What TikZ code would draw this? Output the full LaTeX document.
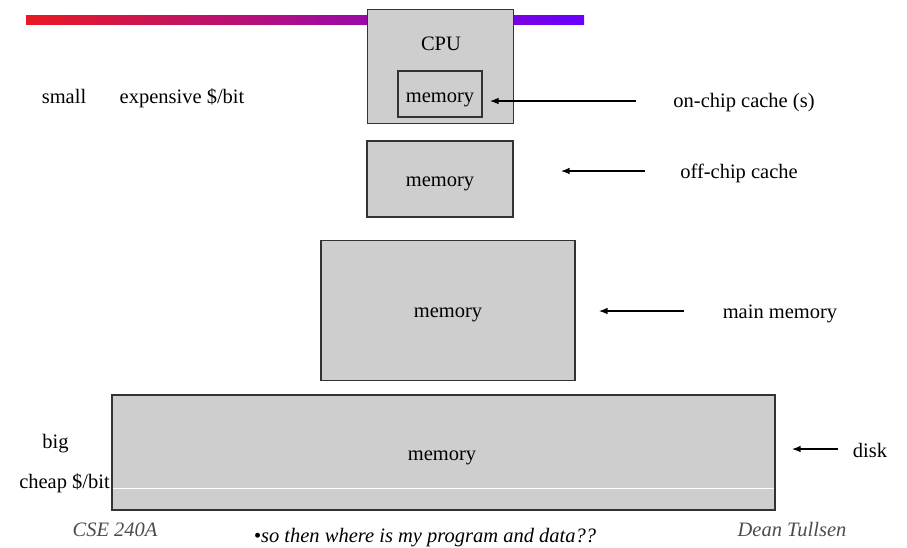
\documentclass[tikz,border=0pt]{standalone}
\usepackage{fontspec}
\setmainfont{Liberation Serif}
\usetikzlibrary{arrows.meta}
\begin{document}
\begin{tikzpicture}[x=1pt,y=-1pt,
  box/.style={draw=black!80, line width=1.3pt, fill=boxgray, inner sep=0pt},
  lbl/.style={font=\fontsize{20.5}{24}\selectfont, inner sep=0pt, anchor=base},
  foot/.style={font=\fontsize{20.5}{24}\selectfont\itshape, inner sep=0pt, text=black!70, anchor=base},
  arr/.style={-{Latex[length=8.5pt,width=6.5pt]}, line width=1.1pt}]
\definecolor{boxgray}{RGB}{206,206,206}
\definecolor{barred}{RGB}{232,26,34}
\definecolor{barmid}{RGB}{212,20,140}
\definecolor{barviol}{RGB}{104,0,255}
\useasboundingbox (0,0) rectangle (907,547);
% gradient bar
\shade[left color=barred, middle color=barmid, right color=barviol] (26,15) rectangle (584,24);
% CPU box
\node[box, minimum width=146pt, minimum height=114pt] (cpu) at (440.5,66.5) {};
\node[lbl] (cputxt) at (441,50) {CPU};
\node[box, minimum width=84pt, minimum height=46pt] (l1) at (440,94) {};
\node[lbl] (l1txt) at (440,102) {memory};
% off-chip
\node[box, minimum width=146pt, minimum height=76pt] (l2) at (440,179) {};
\node[lbl] (l2txt) at (440,186) {memory};
% main memory
\node[box, minimum width=254pt, minimum height=140pt] (mm) at (448,310.5) {};
\node[lbl] (mmtxt) at (448,317) {memory};
% disk
\node[box, minimum width=663pt, minimum height=115pt] (disk) at (443.5,452.5) {};
\node[lbl] (disktxt) at (442,460) {memory};
\coordinate (wl) at (112.7,488);
\coordinate (wr) at (774.3,488);
\draw[white, line width=1pt] (wl) -- (wr);
% right labels and arrows
\node[lbl] (onchip) at (744,107) {on-chip cache (s)};
\coordinate (a1s) at (636,101);
\coordinate (a1e) at (490,101);
\draw[arr] (a1s) -- (a1e);
\node[lbl] (offchip) at (739,178) {off-chip cache};
\coordinate (a2s) at (645,171);
\coordinate (a2e) at (561,171);
\draw[arr] (a2s) -- (a2e);
\node[lbl] (mmlbl) at (780,318) {main memory};
\coordinate (a3s) at (684,311);
\coordinate (a3e) at (599,311);
\draw[arr] (a3s) -- (a3e);
\node[lbl] (disklbl) at (870,457) {disk};
\coordinate (a4s) at (838,449);
\coordinate (a4e) at (792,449);
\draw[arr] (a4s) -- (a4e);
% left labels
\node[lbl] (small) at (64,103) {small};
\node[lbl] (exp) at (182,103) {expensive \$/bit};
\node[lbl] (big) at (55.5,448) {big};
\node[lbl, anchor=base east] (cheap) at (110,488) {cheap \$/bit};
% footer
\node[foot] (cse) at (115,536) {CSE 240A};
\node[foot] (dean) at (792,536) {Dean Tullsen};
\node[lbl, font=\fontsize{20.5}{24}\selectfont\itshape] (q) at (425,542) {\textbullet so then where is my program and data??};
\end{tikzpicture}
\end{document}
